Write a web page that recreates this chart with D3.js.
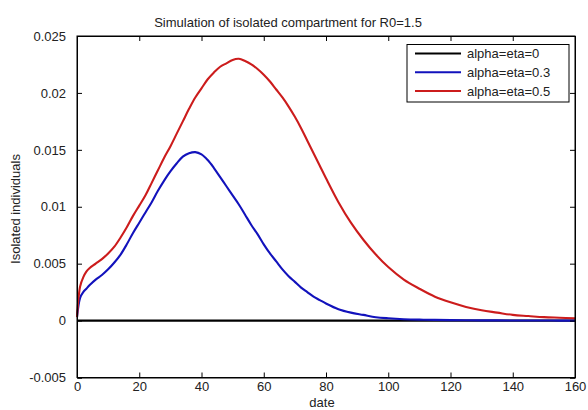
<!DOCTYPE html>
<html>
<head>
<meta charset="utf-8">
<script src="https://cdn.jsdelivr.net/npm/d3@7"></script>
<style>
  html, body { margin: 0; padding: 0; background: #fff; }
  svg { display: block; font-family: "Liberation Sans", Arial, sans-serif; }
</style>
</head>
<body>
<svg id="chart" width="588" height="410"></svg>
<script>
const chartTitle = "Simulation of isolated compartment for R0=1.5";
const xLabel = "date";
const yLabel = "Isolated individuals";
const seriesNames = ["alpha=eta=0", "alpha=eta=0.3", "alpha=eta=0.5"];
const seriesColors = ["#000000", "#1212bc", "#cc1c1c"];

const days = [0,1,2,3,4,6,8,10,12,14,16,18,20,22,24,26,28,30,32,34,36,38,40,42,44,46,48,50,52,54,56,58,60,62,64,66,68,70,72,74,76,78,80,84,88,92,96,100,105,110,115,120,125,130,135,140,145,150,155,160];

const seriesZero = days.map(() => 0);

const seriesEta03 = [0.0003,0.0020,0.0025,0.0028,0.0031,0.0036,0.0040,0.0045,0.0051,0.0058,0.0067,0.0077,0.0086,0.0095,0.0104,0.0114,0.0123,0.0131,0.0138,0.0144,0.0147,0.0148,0.0146,0.0141,0.0134,0.0126,0.0118,0.0110,0.0102,0.0093,0.0084,0.0076,0.0067,0.0059,0.0052,0.0045,0.0039,0.0034,0.0029,0.0025,0.0021,0.0018,0.0015,0.0010,0.0007,0.0005,0.0003,0.0002,0.00012,0.00008,0.00006,0.00004,0.00003,0.00002,0.00002,0.00001,0.00001,0.00001,0.0,0.0];

const seriesEta05 = [0.0003,0.0030,0.0038,0.0043,0.0046,0.0050,0.0054,0.0059,0.0065,0.0073,0.0082,0.0092,0.0101,0.0110,0.0121,0.0132,0.0143,0.0153,0.0164,0.0175,0.0186,0.0196,0.0204,0.0212,0.0218,0.0223,0.0226,0.0229,0.0230,0.0228,0.0225,0.0221,0.0216,0.0210,0.0203,0.0196,0.0188,0.0179,0.0169,0.0158,0.0147,0.0136,0.0125,0.0104,0.0086,0.0071,0.0058,0.0047,0.0036,0.0028,0.0021,0.0016,0.0012,0.0009,0.0007,0.0005,0.0004,0.0003,0.00025,0.0002];

const xTicks = [0,20,40,60,80,100,120,140,160];
const yTicks = [-0.005,0,0.005,0.01,0.015,0.02,0.025];
const yTickLabels = ["-0.005","0","0.005","0.01","0.015","0.02","0.025"];

const allSeries = [seriesZero, seriesEta03, seriesEta05];

const svg = d3.select("#chart");
const m = {left: 77, right: 575, top: 36, bottom: 377.5};

const x = d3.scaleLinear().domain([0,160]).range([m.left, m.right]);
const y = d3.scaleLinear().domain([-0.005, 0.025]).range([m.bottom, m.top]);

svg.append("rect").attr("width",588).attr("height",410).attr("fill","#fff");

// lines
const line = d3.line().x((d,i) => x(days[i])).y(d => y(d)).curve(d3.curveCatmullRom.alpha(0.5));
allSeries.forEach((s, k) => {
  svg.append("path").datum(s)
    .attr("d", line)
    .attr("fill", "none")
    .attr("stroke", seriesColors[k])
    .attr("stroke-width", k === 0 ? 2.4 : 2.1)
    .attr("stroke-linejoin", "round");
});

// axes box
const tick = 5;
const fontSize = 13;
const gB = svg.append("g").attr("transform", `translate(0,${m.bottom})`)
  .call(d3.axisBottom(x).tickValues(xTicks).tickSize(-tick).tickPadding(4.5).tickFormat(d3.format("d")));
const gT = svg.append("g").attr("transform", `translate(0,${m.top})`)
  .call(d3.axisTop(x).tickValues(xTicks).tickSize(-tick).tickFormat(""));
const gL = svg.append("g").attr("transform", `translate(${m.left},0)`)
  .call(d3.axisLeft(y).tickValues(yTicks).tickSize(-tick).tickPadding(11).tickFormat((d,i) => yTickLabels[i]));
const gR = svg.append("g").attr("transform", `translate(${m.right},0)`)
  .call(d3.axisRight(y).tickValues(yTicks).tickSize(-tick).tickFormat(""));
[gB,gT,gL,gR].forEach(g => {
  g.select(".domain").attr("stroke","#000").attr("stroke-width",1);
  g.selectAll(".tick line").attr("stroke","#000");
  g.selectAll("text").attr("fill","#222").style("font-size", fontSize+"px")
    .style("font-family", '"Liberation Sans", Arial, sans-serif');
});
svg.append("rect").attr("x", m.left).attr("y", m.top)
  .attr("width", m.right - m.left).attr("height", m.bottom - m.top)
  .attr("fill","none").attr("stroke","#000").attr("stroke-width",1);

// title
svg.append("text").attr("x", 288).attr("y", 27).attr("text-anchor","middle")
  .style("font-size","13px").attr("fill","#222").text(chartTitle);
// x label
svg.append("text").attr("x", 322).attr("y", 406.5).attr("text-anchor","middle")
  .style("font-size","13px").attr("fill","#222").text(xLabel);
// y label
svg.append("text").attr("transform","translate(20,209) rotate(-90)").attr("text-anchor","middle")
  .style("font-size","13px").attr("fill","#222").text(yLabel);

// legend
const lg = svg.append("g");
lg.append("rect").attr("x", 407).attr("y", 44.5).attr("width", 162).attr("height", 57.5)
  .attr("fill","#fff").attr("stroke","#000").attr("stroke-width",1);
seriesNames.forEach((n, k) => {
  const yy = 53.5 + k * 18.8;
  lg.append("line").attr("x1", 415).attr("x2", 461).attr("y1", yy).attr("y2", yy)
    .attr("stroke", seriesColors[k]).attr("stroke-width", 2);
  lg.append("text").attr("x", 467).attr("y", yy).attr("dy","0.35em")
    .style("font-size","13px").attr("fill","#222").text(n);
});
</script>
</body>
</html>
